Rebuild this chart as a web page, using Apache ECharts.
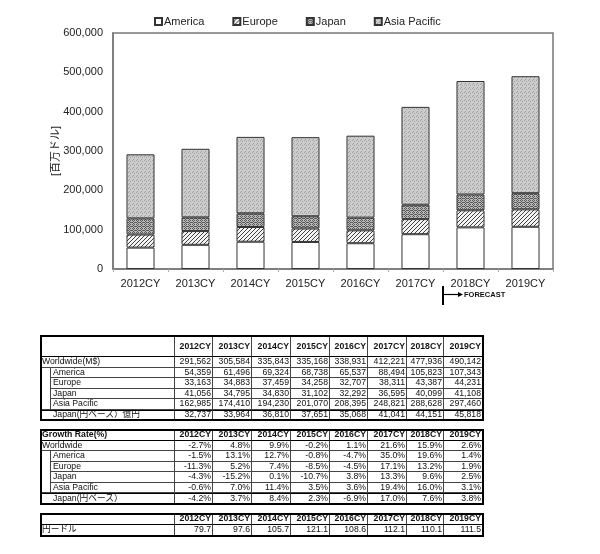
<!DOCTYPE html>
<html><head><meta charset="utf-8">
<script src="https://cdn.jsdelivr.net/npm/echarts@6/dist/echarts.min.js"></script>
<style>
html,body{margin:0;padding:0;background:#fff;}
#chart{position:absolute;left:0;top:0;width:600px;height:554px;}
.cell{position:absolute;box-sizing:border-box;border-right:1px solid #444;border-bottom:1px solid #444;
 font-family:"Liberation Sans",Arial,"Noto Sans CJK JP",sans-serif;font-size:8.7px;line-height:9px;color:#111;
 display:flex;align-items:center;white-space:nowrap;overflow:hidden;}
.frame{position:absolute;box-sizing:border-box;border:2px solid #000;pointer-events:none;}
</style></head>
<body>
<div id="chart"></div>
<div id="tables"></div>
<script>
// ---- data ----
var categories = ['2012CY','2013CY','2014CY','2015CY','2016CY','2017CY','2018CY','2019CY'];
var seriesNames = ['America','Europe','Japan','Asia Pacific'];
var america = [54359,61496,69324,68738,65537,88494,105823,107343];
var europe = [33163,34883,37459,34258,32707,38311,43387,44231];
var japan = [41056,34795,34830,31102,32292,36595,40099,41108];
var asiaPacific = [162985,174410,194230,201070,208395,248821,288628,297460];
var worldwide = [291562,305584,335843,335168,338931,412221,477936,490142];
var japanYen = [32737,33964,36810,37651,35068,41041,44151,45818];
var growthWorldwide = [-2.7,4.8,9.9,-0.2,1.1,21.6,15.9,2.6];
var growthAmerica = [-1.5,13.1,12.7,-0.8,-4.7,35.0,19.6,1.4];
var growthEurope = [-11.3,5.2,7.4,-8.5,-4.5,17.1,13.2,1.9];
var growthJapan = [-4.3,-15.2,0.1,-10.7,3.8,13.3,9.6,2.5];
var growthAsiaPacific = [-0.6,7.0,11.4,3.5,3.6,19.4,16.0,3.1];
var growthJapanYen = [-4.2,3.7,8.4,2.3,-6.9,17.0,7.6,3.8];
var yenPerDollar = [79.7,97.6,105.7,121.1,108.6,112.1,110.1,111.5];
var yAxisTicks = [0,100000,200000,300000,400000,500000,600000];
var yAxisName = '[百万ドル]';
var forecastLabel = 'FORECAST';
var forecastFrom = '2018CY';

// ---- patterns ----
function tile(size, bg, pts, fg){
  var c=document.createElement('canvas'); c.width=size; c.height=size;
  var g=c.getContext('2d'); g.fillStyle=bg; g.fillRect(0,0,size,size);
  g.fillStyle=fg; pts.forEach(function(p){g.fillRect(p[0],p[1],1,1);});
  return {image:c, repeat:'repeat'};
}
var fillAmerica = '#ffffff';
var fillEurope = tile(4,'#f2f2f2',[[3,0],[2,1],[1,2],[0,3]],'#444444');
var fillJapan = tile(4,'#b8b8b8',[[0,0],[2,0],[1,1],[3,2],[0,2],[2,2],[1,3]],'#5a5a5a');
var fillAsia = tile(4,'#cccccc',[[0,0],[2,1],[1,3]],'#a0a0a0');
var fills=[fillAmerica,fillEurope,fillJapan,fillAsia];
var values=[america,europe,japan,asiaPacific];

var chart = echarts.init(document.getElementById('chart'), null, {renderer:'canvas'});
var font = '"Liberation Sans", Arial, "Noto Sans CJK JP", sans-serif';
var option = {
  animation:false,
  backgroundColor:'#fff',
  textStyle:{fontFamily:font},
  legend:{
    left:149, top:11, itemWidth:7, itemHeight:7, itemGap:28,
    icon:'rect',
    textStyle:{fontSize:11,color:'#222',fontFamily:font,padding:[0,0,0,-3]},
    data:seriesNames
  },
  grid:{left:113, top:33, width:440, height:236, show:true, borderColor:'#777', borderWidth:1.5, backgroundColor:'transparent', containLabel:false, outerBoundsMode:'none'},
  xAxis:{
    type:'category', data:categories,
    axisLine:{lineStyle:{color:'#777',width:1.5}},
    axisTick:{show:true,length:3,lineStyle:{color:'#aaa'}},
    axisLabel:{fontSize:11,color:'#222',margin:9,fontFamily:font}
  },
  yAxis:{
    type:'value', min:0, max:600000, interval:100000,
    name:yAxisName, nameLocation:'middle', nameGap:52, nameMoveOverlap:false,
    nameTextStyle:{fontSize:11,color:'#222',fontFamily:font},
    axisLine:{show:true,lineStyle:{color:'#777',width:1.5}},
    axisTick:{show:false},
    splitLine:{show:false},
    axisLabel:{fontSize:11,color:'#222',margin:10,fontFamily:font,
      formatter:function(v){return v.toLocaleString('en-US');}}
  },
  series: seriesNames.map(function(n,i){
    return {name:n,type:'bar',stack:'total',data:values[i],barWidth:'51%',
      itemStyle:{color:fills[i],borderColor:'#333',borderWidth:1}};
  })
};
chart.setOption(option);

// forecast marker placed via the category scale
var i18 = categories.indexOf(forecastFrom);
var c18 = chart.convertToPixel({xAxisIndex:0}, categories[i18]);
var c17 = chart.convertToPixel({xAxisIndex:0}, categories[i18-1]);
var bx = Math.round((c18+c17)/2);
var by = chart.convertToPixel({yAxisIndex:0}, 0);
chart.setOption({graphic:[
  {type:'line',shape:{x1:bx,y1:by+17,x2:bx,y2:by+36},style:{stroke:'#000',lineWidth:2}},
  {type:'line',shape:{x1:bx,y1:by+25.5,x2:bx+16,y2:by+25.5},style:{stroke:'#000',lineWidth:1.2}},
  {type:'polygon',shape:{points:[[bx+15,by+23],[bx+20,by+25.5],[bx+15,by+28]]},style:{fill:'#000'}},
  {type:'text',x:bx+21,y:by+25.5,style:{text:forecastLabel,font:'bold 7.5px '+font,fill:'#111',verticalAlign:'middle'}}
]});

// ---- tables ----
var colEdges=[41,51,175,213,252,291,330,368,407,444,483];
var host=document.getElementById('tables');
function fmtInt(v){return v.toLocaleString('en-US');}
function fmtPct(v){return v.toFixed(1)+'%';}
function drawTable(rowEdges, cells){
  cells.forEach(function(cl){
    var d=document.createElement('div'); d.className='cell';
    var cs=cl.cs||1, rs=cl.rs||1;
    var x0=colEdges[cl.c], x1=colEdges[cl.c+cs], y0=rowEdges[cl.r], y1=rowEdges[cl.r+rs];
    d.style.left=x0+'px'; d.style.top=y0+'px'; d.style.width=(x1-x0)+'px'; d.style.height=(y1-y0)+'px';
    d.style.justifyContent=cl.align==='right'?'flex-end':'flex-start';
    d.style.paddingRight=cl.align==='right'?'1px':'0';
    d.style.paddingLeft=(cl.pl!=null?cl.pl:1)+'px';
    if(cl.bold) d.style.fontWeight='bold';
    if(cl.bottomDark) d.style.borderBottom='1px solid #000';
    if(cl.topDark) d.style.borderTop='1.5px solid #000';
    d.textContent=cl.text||'';
    host.appendChild(d);
  });
  var f=document.createElement('div'); f.className='frame';
  f.style.left=(colEdges[0]-1)+'px'; f.style.top=(rowEdges[0]-1)+'px';
  f.style.width=(colEdges[colEdges.length-1]-colEdges[0]+2)+'px';
  f.style.height=(rowEdges[rowEdges.length-1]-rowEdges[0]+2)+'px';
  host.appendChild(f);
}
function headerCells(label){
  var cells=[{r:0,c:0,cs:2,text:label,bold:true,bottomDark:true}];
  categories.forEach(function(y,j){cells.push({r:0,c:2+j,text:y,bold:true,align:'right',pl:0,bottomDark:true});});
  return cells;
}
function rowCells(cells,r,label,vals,fmt,opts){
  opts=opts||{};
  if(opts.sub){cells.push({r:r,c:1,text:label,pl:2,topDark:opts.topDark});}
  else cells.push({r:r,c:0,cs:2,text:label,pl:opts.pl,topDark:opts.topDark});
  vals.forEach(function(v,j){cells.push({r:r,c:2+j,text:fmt(v),align:'right',topDark:opts.topDark});});
}
// table 1
var t1=headerCells('');
rowCells(t1,1,'Worldwide(M$)',worldwide,fmtInt);
t1.push({r:2,c:0,rs:4,text:''});
rowCells(t1,2,'America',america,fmtInt,{sub:true});
rowCells(t1,3,'Europe',europe,fmtInt,{sub:true});
rowCells(t1,4,'Japan',japan,fmtInt,{sub:true});
rowCells(t1,5,'Asia Pacific',asiaPacific,fmtInt,{sub:true});
rowCells(t1,6,'Japan(円ベース）億円',japanYen,fmtInt,{pl:12,topDark:true});
drawTable([336,357,367.5,378,388.5,399,409.5,420],t1);
// table 2
var t2=headerCells('Growth Rate(%)');
rowCells(t2,1,'Worldwide',growthWorldwide,fmtPct);
t2.push({r:2,c:0,rs:4,text:''});
rowCells(t2,2,'America',growthAmerica,fmtPct,{sub:true});
rowCells(t2,3,'Europe',growthEurope,fmtPct,{sub:true});
rowCells(t2,4,'Japan',growthJapan,fmtPct,{sub:true});
rowCells(t2,5,'Asia Pacific',growthAsiaPacific,fmtPct,{sub:true});
rowCells(t2,6,'Japan(円ベース）',growthJapanYen,fmtPct,{pl:12,topDark:true});
drawTable([430,440.5,451,461.5,472,482.5,493,504],t2);
// table 3
var t3=headerCells('');
rowCells(t3,1,'円ードル',yenPerDollar,function(v){return v.toFixed(1);});
drawTable([514,524.5,536],t3);
</script>
</body></html>
